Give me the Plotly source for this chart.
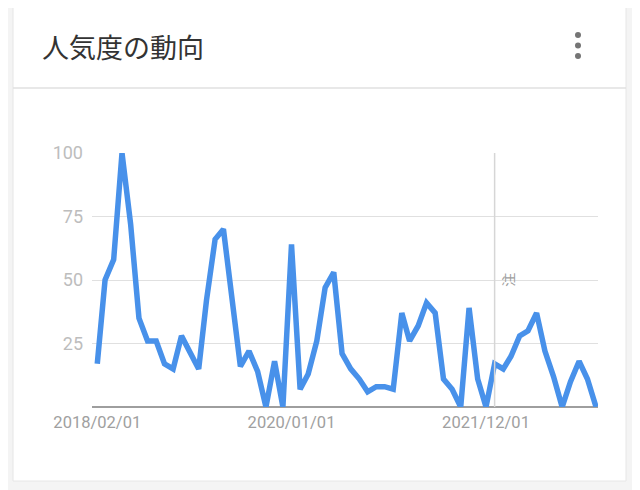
import plotly.graph_objects as go
import pandas as pd

# monthly interest, Google-Trends style (2018/02 .. 2023/01)
months = pd.date_range("2018-02-01", "2023-01-01", freq="MS")
interest = [17, 50, 58, 100, 72, 35, 26, 26, 17, 15, 28, 21,
            15, 42, 66, 70, 41, 16, 22, 14, 0, 18, 0, 64,
            7, 13, 26, 47, 53, 21, 15, 11, 6, 8, 8, 7,
            37, 26, 32, 41, 37, 11, 7, 0, 39, 11, 0, 17,
            15, 20, 28, 30, 37, 22, 12, 0, 10, 18, 11, 0]

x_ticks = ["2018-02-01", "2020-01-01", "2021-12-01"]
x_ticktext = ["2018/02/01", "2020/01/01", "2021/12/01"]
y_ticks = [25, 50, 75, 100]
note_date = "2022-01-01"

# page puts the figure 8px in from the corner, so work in shifted pixels
OFF = 8
W, H = 640, 490
L, R, T, B = 92 - OFF, 640 - 598 + OFF, 153 - OFF, 490 - 407 + OFF
pw, ph = W - L - R, H - T - B


def px(x):
    return (x - OFF - L) / pw


def py(y):
    return (H - B - (y - OFF)) / ph


fig = go.Figure()
fig.add_trace(go.Scatter(x=months, y=interest, mode="lines",
                         line=dict(color="#4891EA", width=5.5),
                         hoverinfo="x+y"))

shapes = [
    # card
    dict(type="rect", xref="paper", yref="paper", x0=px(13), x1=px(626),
         y0=py(481), y1=py(6), fillcolor="white",
         line=dict(color="#e6e6e6", width=1), layer="below"),
    # header separator
    dict(type="line", xref="paper", yref="paper", x0=px(13), x1=px(626),
         y0=py(88), y1=py(88), line=dict(color="#e0e0e0", width=1.5)),
    # note line
    dict(type="line", xref="x", yref="paper", x0=note_date, x1=note_date,
         y0=0, y1=1, line=dict(color="#d6d6d6", width=1.5)),
]
for dy in [35, 45.5, 56]:
    shapes.append(dict(type="circle", xref="paper", yref="paper",
                       x0=px(575), x1=px(581), y0=py(dy + 3), y1=py(dy - 3),
                       fillcolor="#757575", line=dict(width=0)))

fig.update_layout(
    width=W, height=H,
    margin=dict(l=L, r=R, t=T, b=B),
    paper_bgcolor="#f4f4f4",
    plot_bgcolor="white",
    showlegend=False,
    shapes=shapes,
    font=dict(family="Roboto, Noto Sans CJK JP"),
    annotations=[
        dict(text="人気度の動向", xref="paper", yref="paper",
             x=px(40), y=py(46), xanchor="left", yanchor="middle",
             showarrow=False,
             font=dict(family="Noto Sans CJK JP", size=27, color="#333333")),
        dict(text="注", xref="x", yref="y", x=note_date, y=50,
             xanchor="left", yanchor="middle", xshift=1, textangle=-90,
             showarrow=False,
             font=dict(family="Noto Sans CJK JP", size=14, color="#a0a0a0")),
    ],
)

fig.update_xaxes(
    range=["2018-01-13", "2023-01-08"],
    tickvals=x_ticks, ticktext=x_ticktext,
    showgrid=False, zeroline=False, showline=False,
    ticks="", ticklabelstandoff=3,
    tickfont=dict(size=16.5, color="#a0a0a0"),
)
fig.update_yaxes(
    range=[0, 100], tickvals=y_ticks,
    showgrid=True, gridcolor="#e0e0e0", gridwidth=1,
    zeroline=True, zerolinecolor="#9e9e9e", zerolinewidth=1.5,
    ticks="", ticklabelstandoff=8,
    tickfont=dict(size=18, color="#bdbdbd"),
)

fig.write_html("out.html")
